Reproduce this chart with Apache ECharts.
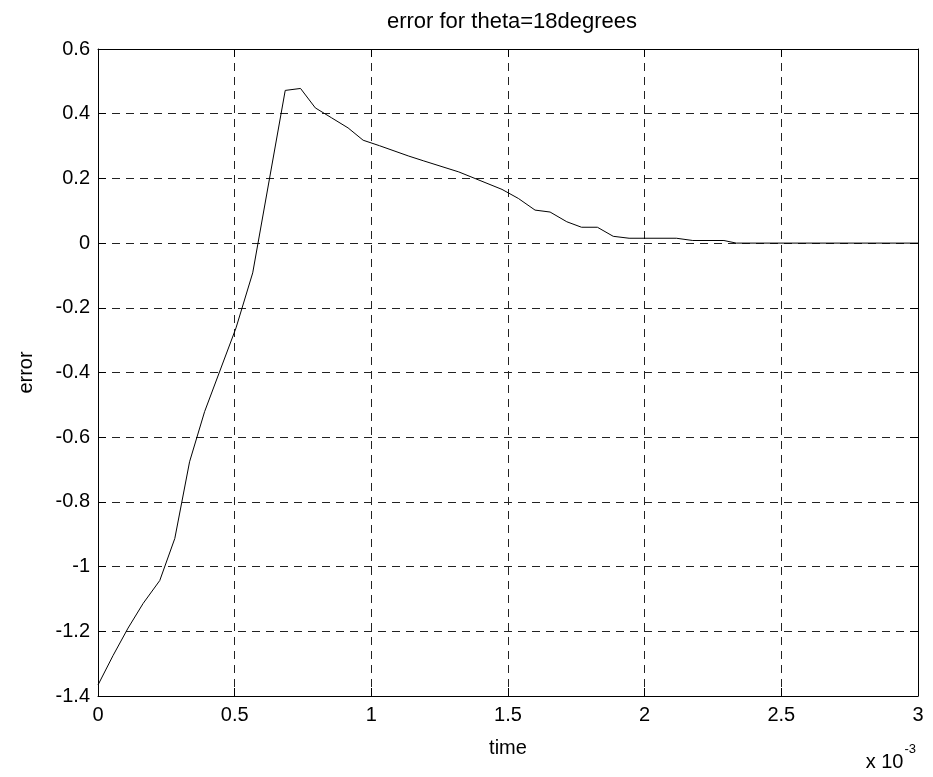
<!DOCTYPE html>
<html>
<head>
<meta charset="utf-8">
<title>error for theta=18degrees</title>
<script src="https://cdn.jsdelivr.net/npm/echarts@6/dist/echarts.min.js"></script>
<style>
  html, body { margin: 0; padding: 0; background: #fff; }
  #chart { width: 933px; height: 777px; }
</style>
</head>
<body>
<div id="chart"></div>
<script>
// time in units of 1e-3 s
const timeMs = [0, 0.055, 0.11, 0.165, 0.226, 0.281, 0.335, 0.39, 0.505, 0.566,
  0.685, 0.741, 0.795, 0.855, 0.915, 0.97, 1.03, 1.137, 1.192, 1.32,
  1.478, 1.538, 1.599, 1.654, 1.715, 1.769, 1.827, 1.885, 1.943, 2.116,
  2.176, 2.29, 2.335, 3.0];
const errorVals = [-1.366, -1.275, -1.19, -1.114, -1.043, -0.913, -0.676, -0.521, -0.262, -0.092,
  0.472, 0.478, 0.418, 0.387, 0.356, 0.318, 0.301, 0.269, 0.254, 0.22,
  0.166, 0.138, 0.102, 0.096, 0.066, 0.049, 0.049, 0.021, 0.015, 0.015,
  0.008, 0.008, 0.0, 0.0];

const points = timeMs.map((t, i) => [t, errorVals[i]]);

const chart = echarts.init(document.getElementById("chart"), null, { renderer: "canvas" });

const font = "Liberation Sans, Arial, sans-serif";
const gridDash = { color: "#222", width: 1, type: [8, 6] };
const boxLine = { show: true, onZero: false, lineStyle: { color: "#000", width: 1 } };
const inTicks = { show: true, inside: true, length: 8, lineStyle: { color: "#000" } };

const option = {
  backgroundColor: "#fff",
  animation: false,
  title: {
    text: "error for theta=18degrees",
    left: 507,
    top: 6,
    textAlign: "center",
    textStyle: { fontFamily: font, fontSize: 22, fontWeight: "normal", color: "#000" },
  },
  grid: { left: 98, right: 15, top: 49, bottom: 81 },
  xAxis: [
    {
      type: "value",
      min: 0,
      max: 3,
      interval: 0.5,
      name: "time",
      nameLocation: "middle",
      nameGap: 42,
      nameTextStyle: { fontFamily: font, fontSize: 20, color: "#000" },
      axisLine: boxLine,
      axisTick: inTicks,
      axisLabel: { fontFamily: font, fontSize: 20, color: "#000", margin: 9 },
      splitLine: { show: true, lineStyle: gridDash },
    },
    {
      type: "value",
      position: "top",
      min: 0,
      max: 3,
      interval: 0.5,
      axisLine: boxLine,
      axisTick: inTicks,
      axisLabel: { show: false },
      splitLine: { show: false },
    },
  ],
  yAxis: [
    {
      type: "value",
      min: -1.4,
      max: 0.6,
      interval: 0.2,
      name: "error",
      nameLocation: "middle",
      nameGap: 62,
      nameTextStyle: { fontFamily: font, fontSize: 20, color: "#000" },
      axisLine: boxLine,
      axisTick: inTicks,
      axisLabel: { fontFamily: font, fontSize: 20, color: "#000", margin: 8 },
      splitLine: { show: true, lineStyle: gridDash },
    },
    {
      type: "value",
      position: "right",
      min: -1.4,
      max: 0.6,
      interval: 0.2,
      axisLine: boxLine,
      axisTick: inTicks,
      axisLabel: { show: false },
      splitLine: { show: false },
    },
  ],
  graphic: [
    {
      type: "text",
      right: 17,
      top: 743,
      style: {
        text: "{b|x 10}{s|-3}",
        rich: {
          b: { fontFamily: font, fontSize: 20, fill: "#000", verticalAlign: "bottom" },
          s: { fontFamily: font, fontSize: 13, fill: "#000", verticalAlign: "top", padding: [0, 0, 16, 1] },
        },
      },
    },
  ],
  series: [
    {
      type: "line",
      data: points,
      showSymbol: false,
      silent: true,
      lineStyle: { color: "#000", width: 1 },
    },
  ],
};

chart.setOption(option);
</script>
</body>
</html>
